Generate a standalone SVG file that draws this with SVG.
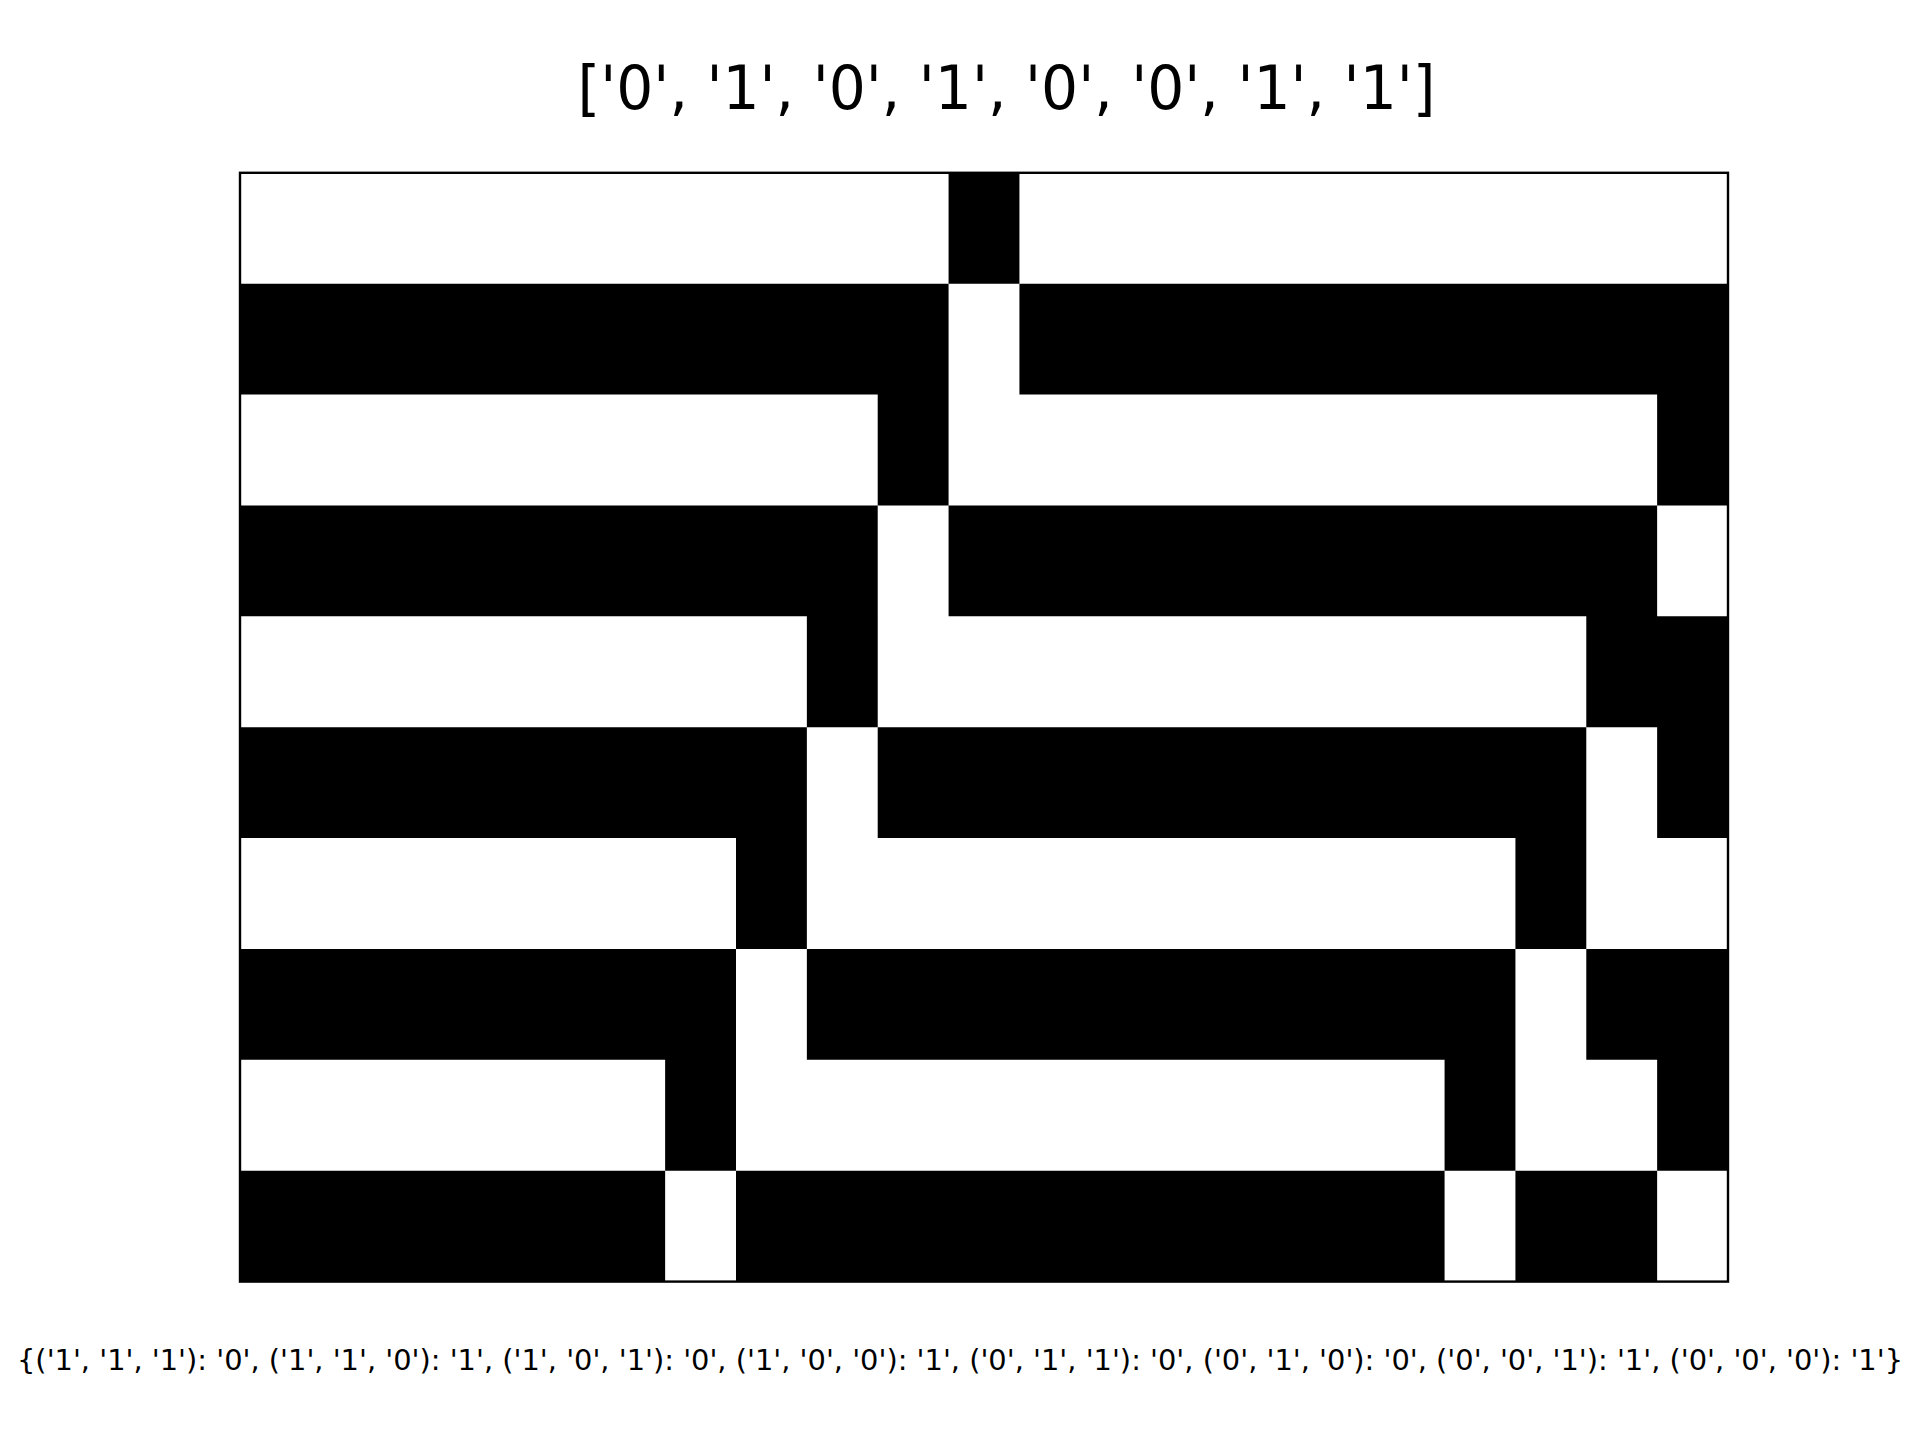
<svg xmlns="http://www.w3.org/2000/svg" width="1920" height="1440" viewBox="0 0 1920 1440">
<style>
.c{fill:#000;stroke:none}
.t{font-family:"DejaVu Sans","Liberation Sans",sans-serif;fill:#000}
</style>
<rect width="1920" height="1440" fill="#fff"/>
<text class="t" x="1006.5" y="108.5" font-size="60" text-anchor="middle" textLength="858" lengthAdjust="spacingAndGlyphs">['0', '1', '0', '1', '0', '0', '1', '1']</text>
<g id="grid">
<path class="c" d="
M948.57,172.8h70.86v110.88h-70.86z
M240,283.68h708.57v110.88h-708.57z
M1019.43,283.68h708.57v110.88h-708.57z
M877.71,394.56h70.86v110.88h-70.86z
M1657.14,394.56h70.86v110.88h-70.86z
M240,505.44h637.71v110.88h-637.71z
M948.57,505.44h708.57v110.88h-708.57z
M806.86,616.32h70.86v110.88h-70.86z
M1586.29,616.32h141.71v110.88h-141.71z
M240,727.2h566.86v110.88h-566.86z
M877.71,727.2h708.57v110.88h-708.57z
M1657.14,727.2h70.86v110.88h-70.86z
M736,838.08h70.86v110.88h-70.86z
M1515.43,838.08h70.86v110.88h-70.86z
M240,948.96h496v110.88h-496z
M806.86,948.96h708.57v110.88h-708.57z
M1586.29,948.96h141.71v110.88h-141.71z
M665.14,1059.84h70.86v110.88h-70.86z
M1444.57,1059.84h70.86v110.88h-70.86z
M1657.14,1059.84h70.86v110.88h-70.86z
M240,1170.72h425.14v110.88h-425.14z
M736,1170.72h708.57v110.88h-708.57z
M1515.43,1170.72h141.71v110.88h-141.71z"/>
</g>
<rect id="frame" x="240" y="172.8" width="1488" height="1108.8" fill="none" stroke="#000" stroke-width="2.4"/>
<text class="t" x="960" y="1369.5" font-size="27.8" text-anchor="middle" textLength="1886" lengthAdjust="spacingAndGlyphs">{('1', '1', '1'): '0', ('1', '1', '0'): '1', ('1', '0', '1'): '0', ('1', '0', '0'): '1', ('0', '1', '1'): '0', ('0', '1', '0'): '0', ('0', '0', '1'): '1', ('0', '0', '0'): '1'}</text>
</svg>
